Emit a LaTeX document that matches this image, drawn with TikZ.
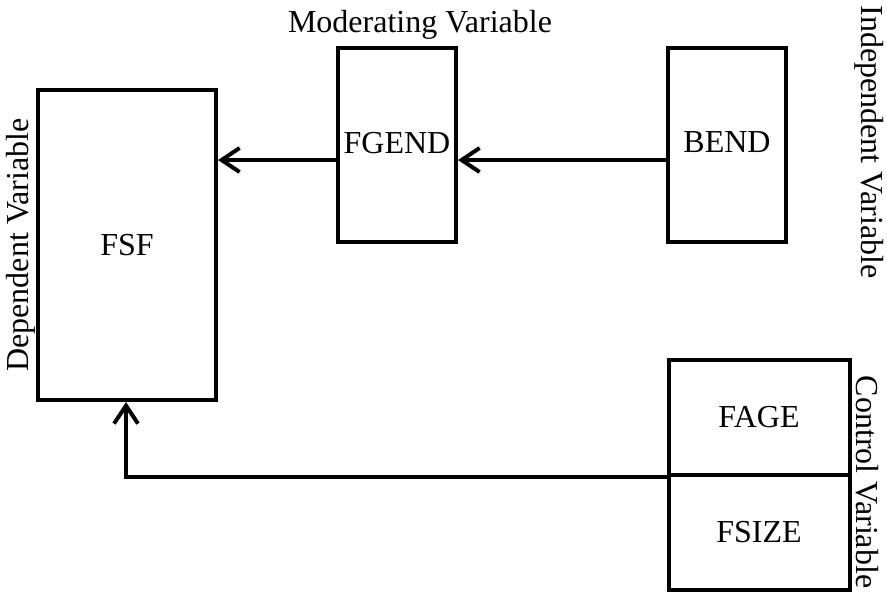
\documentclass[tikz,border=0pt]{standalone}
\usepackage{fontspec}
\setmainfont{Liberation Serif}
\usetikzlibrary{arrows.meta}
\begin{document}
\begin{tikzpicture}[x=1pt,y=-1pt,
  box/.style={draw,line width=4pt,minimum width=#1,inner sep=0pt,font=\fontsize{32}{38}\selectfont},
  lbl/.style={font=\fontsize{32}{38}\selectfont,inner sep=0pt},
  conn/.style={line width=4pt,-{Straight Barb[length=18pt,width=24pt,line width=4pt]}}]
\useasboundingbox (0,0) rectangle (887,595);
\node[box=178pt,minimum height=310pt] (fsf) at (127,245) {FSF};
\node[box=118pt,minimum height=194pt] (fgend) at (397,145) {\raisebox{5pt}{FGEND}};
\node[box=118pt,minimum height=194pt] (bend) at (727,145) {\raisebox{5pt}{BEND}};
\node[box=181pt,minimum height=115pt] (fage) at (759,417) {FAGE};
\node[box=181pt,minimum height=115pt] (fsize) at (759,532) {\raisebox{-4pt}{FSIZE}};
\coordinate (j) at (fage.south west);
\draw[conn] (fgend.west |- 0,160) -- (fsf.east |- 0,160);
\draw[conn] (bend.west |- 0,160) -- (fgend.east |- 0,160);
\draw[conn] (j) -| (fsf.south -| 126,0);
\node[lbl] (mod) at (420,25) {Moderating Variable};
\node[lbl,rotate=-90] (ind) at (869,142) {Independent Variable};
\node[lbl,rotate=90] (dep) at (21,245) {Dependent Variable};
\node[lbl,rotate=-90] (ctl) at (867,482) {Control Variable};
\end{tikzpicture}
\end{document}
